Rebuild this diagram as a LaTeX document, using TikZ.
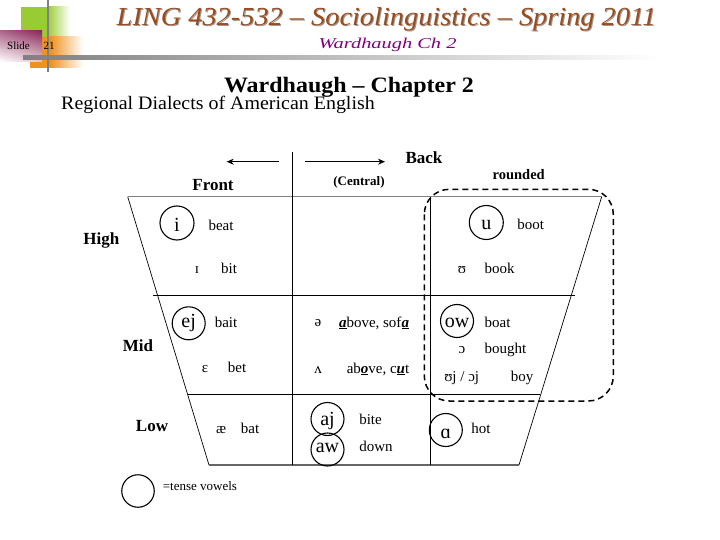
\documentclass[tikz,border=0pt]{standalone}
\usepackage{fontspec}
\setmainfont{Liberation Serif}
\usetikzlibrary{arrows.meta,shadings}
\definecolor{titlec}{RGB}{156,76,28}
\definecolor{subc}{RGB}{128,0,128}
\definecolor{grn}{RGB}{153,204,51}
\definecolor{org}{RGB}{240,145,30}
\definecolor{maro}{RGB}{140,40,90}
\tikzset{
  lbl/.style={font=\fontsize{17}{17}\selectfont\bfseries, anchor=base, inner sep=0},
  wd/.style={font=\fontsize{15}{15}\selectfont, anchor=base, inner sep=0},
  vc/.style={circle, draw, line width=1.1pt, minimum size=33pt, inner sep=0pt},
  vt/.style={font=\fontsize{20}{20}\selectfont, anchor=base, inner sep=0},
  gridline/.style={line width=0.9pt},
}
\begin{document}
\begin{tikzpicture}[x=1pt,y=-1pt]
\useasboundingbox (0,0) rectangle (720,540);
% header decoration
\fill[grn] (21,7) rectangle (47,37);
\shade[left color=grn, right color=white] (47,7) rectangle (70,37);
\fill[org] (30,37) rectangle (50,68);
\shade[left color=org, right color=white] (50,37) rectangle (83,68);
\shade[upper right=maro, upper left=maro!70, lower left=white, lower right=maro!25] (0,31) rectangle (42,62);
\shade[left color=gray, right color=white] (23,55.5) rectangle (660,60);
\draw[gray, line width=2.5pt] (48,0) -- (48,72);
\node[font=\fontsize{11}{11}\selectfont, anchor=base, inner sep=0] (slide) at (18.5,50) {Slide};
\node[font=\fontsize{11}{11}\selectfont, anchor=base, inner sep=0] (num) at (49,50) {21};
% titles
\node[font=\fontsize{26}{26}\selectfont\itshape, text=black!40, anchor=base, xscale=1.09, transform shape] (tshadow) at (387.5,27) {LING 432-532 – Sociolinguistics – Spring 2011};
\node[font=\fontsize{26}{26}\selectfont\itshape, text=titlec, anchor=base, xscale=1.09, transform shape] (title) at (386.5,26) {LING 432-532 – Sociolinguistics – Spring 2011};
\node[font=\fontsize{15}{15}\selectfont\itshape, text=subc, anchor=base, xscale=1.36, transform shape] (sub) at (387.5,48.5) {Wardhaugh Ch 2};
\node[font=\fontsize{22}{22}\selectfont\bfseries, anchor=base, xscale=1.09, transform shape] (chap) at (349,92.7) {Wardhaugh – Chapter 2};
\node[font=\fontsize{19}{19}\selectfont, anchor=base west, inner sep=0, xscale=1.05, transform shape] (reg) at (61,109.3) {Regional Dialects of American English};
% chart frame
\coordinate (TL) at (127.7,196.7);
\coordinate (TR) at (601.7,196.7);
\coordinate (BL) at (209,465);
\coordinate (BR) at (519,465);
\draw[line width=0.7pt] (TL) -- (BL);
\draw[line width=0.7pt] (TR) -- (BR);
\draw[gray, line width=1.6pt] (TL) -- (TR);
\draw[black!60, line width=1.2pt] (BL) -- (BR);
\coordinate (h1a) at (153,295); \coordinate (h1b) at (575,295);
\coordinate (h2a) at (188,394.3); \coordinate (h2b) at (540,394.3);
\coordinate (v1a) at (292.3,152.3); \coordinate (v1b) at (292.3,465);
\coordinate (v2a) at (430.7,196.7); \coordinate (v2b) at (430.7,465);
\draw[gridline] (h1a) -- (h1b);
\draw[gridline] (h2a) -- (h2b);
\draw[gridline] (v1a) -- (v1b);
\draw[gridline] (v2a) -- (v2b);
% arrows
\coordinate (al1) at (279,161.7); \coordinate (al2) at (226.7,161.7);
\coordinate (ar1) at (305,161.7); \coordinate (ar2) at (385,161.7);
\draw[line width=0.8pt, -{Stealth[length=7pt,width=6pt]}] (al1) -- (al2);
\draw[line width=0.8pt, -{Stealth[length=7pt,width=6pt]}] (ar1) -- (ar2);
% dashed rounded box
\draw[line width=1.5pt, dash pattern=on 6pt off 4pt, rounded corners=25pt] (424.3,189.3) rectangle (613.3,401);
% labels
\node[lbl] (front) at (213,190.7) {Front};
\node[lbl] (back) at (424,164) {Back};
\node[lbl, font=\fontsize{13}{13}\selectfont\bfseries] (central) at (359,186) {(Central)};
\node[lbl, font=\fontsize{14.5}{14.5}\selectfont\bfseries] (rounded) at (518.7,180) {rounded};
\node[lbl] (high) at (101.3,244) {High};
\node[lbl] (mid) at (138,351) {Mid};
\node[lbl] (low) at (152,431.7) {Low};
% vowels
\node[vc, minimum size=34pt] (vi) at (177,223) {};
\node[vt] (ti) at (177,231) {i};
\node[wd] (beat) at (221,230.5) {beat};
\node[wd] (vI) at (197,273) {ɪ};
\node[wd] (bit) at (229,273) {bit};
\node[vc, minimum size=34pt] (vu) at (486.3,222.5) {};
\node[vt] (tu) at (486.3,229.5) {u};
\node[wd] (boot) at (530.7,229.5) {boot};
\node[wd] (vU) at (462,273) {ʊ};
\node[wd] (book) at (499.7,273) {book};
\node[vc] (vej) at (188.7,323.3) {};
\node[vt] (tej) at (188.7,327.5) {ej};
\node[wd] (bait) at (226,327) {bait};
\node[wd] (veps) at (205,372) {ɛ};
\node[wd] (bet) at (237,372) {bet};
\node[wd] (vae) at (221,433.3) {æ};
\node[wd] (bat) at (250,433.3) {bat};
\node[wd] (vschwa) at (318,326.7) {ə};
\node[wd] (sofa) at (374,327) {\underline{\textbf{\textit{a}}}bove, sof\underline{\textbf{\textit{a}}}};
\node[wd] (vwedge) at (318,373.3) {ʌ};
\node[wd] (cut) at (378,373) {ab\underline{\textbf{\textit{o}}}ve, c\underline{\textbf{\textit{u}}}t};
\node[vc] (vow) at (457,321) {};
\node[vt] (tow) at (457,327.3) {ow};
\node[wd] (boat) at (497.5,327) {boat};
\node[wd] (vopen) at (462,353.3) {ɔ};
\node[wd] (bought) at (505.5,353.3) {bought};
\node[wd] (voj) at (461.7,381.5) {ʊj / ɔj};
\node[wd] (boy) at (522,381) {boy};
\node[vc] (vaj) at (327.5,419) {};
\node[vt] (taj) at (327.5,425.7) {aj};
\node[vc] (vaw) at (327.5,449.5) {};
\node[vt] (taw) at (327.5,452.3) {aw};
\node[wd] (bite) at (370.5,424.3) {bite};
\node[wd] (down) at (376,451.7) {down};
\node[vc] (vah) at (445.8,430) {};
\node[vt] (tah) at (445.8,438.5) {ɑ};
\node[wd] (hot) at (481,433.5) {hot};
% legend
\node[vc, minimum size=32.5pt] (leg) at (138,491) {};
\node[font=\fontsize{13}{13}\selectfont, anchor=base west, inner sep=0] (legt) at (162.7,490.5) {=tense vowels};
\end{tikzpicture}
\end{document}
